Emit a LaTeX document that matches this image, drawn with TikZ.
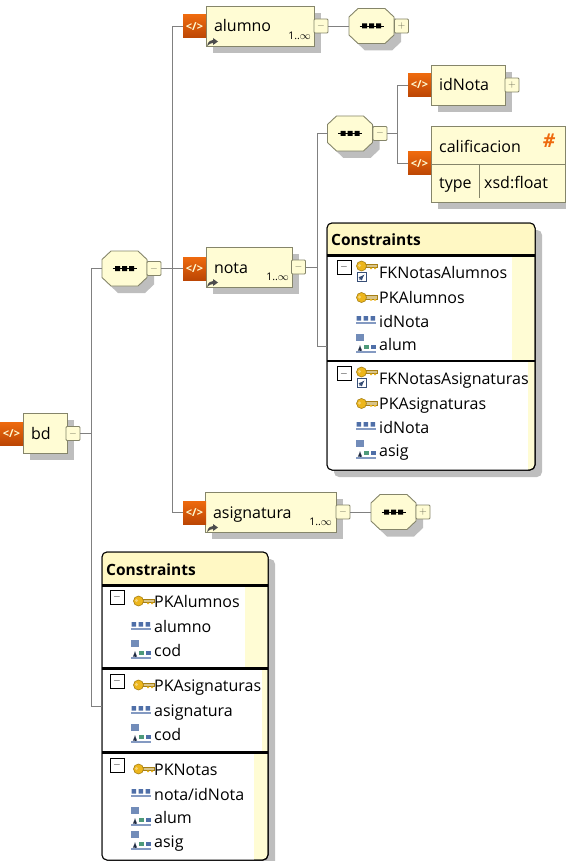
\documentclass[tikz,border=0pt]{standalone}
\usepackage{fontspec}
\setmainfont{Open Sans}
\usetikzlibrary{shadows}
\definecolor{boxfill}{HTML}{FFFCD4}
\definecolor{boxline}{HTML}{85856A}
\definecolor{titlefill}{HTML}{FFF8C4}
\definecolor{shadowgray}{HTML}{BEBEBE}
\definecolor{connline}{HTML}{808080}
\definecolor{icontop}{HTML}{EE6A0E}
\definecolor{iconbot}{HTML}{BC4604}
\definecolor{keygold}{HTML}{EDB61C}
\definecolor{keylight}{HTML}{D8C48A}
\definecolor{fieldblue}{HTML}{4F6FA8}
\definecolor{fieldgreen}{HTML}{4E9A7A}
\tikzset{
  conn/.style={draw=connline,line width=0.9pt},
  castshadow/.style={drop shadow={shadow xshift=7pt,shadow yshift=-7pt,opacity=1,fill=shadowgray}},
  elembox/.style={draw=boxline,fill=boxfill,line width=0.9pt,castshadow,anchor=west,align=left,
    text width=#1pt-16pt,inner xsep=8pt,inner ysep=0pt,minimum height=40pt,outer sep=0pt,
    text height=15pt,text depth=3pt,font=\fontsize{16}{18}\selectfont},
  elemicon/.style={top color=icontop,bottom color=iconbot,minimum width=23pt,minimum height=23pt,inner sep=0pt,
    text=boxfill,font=\fontsize{11}{11}\selectfont\bfseries},
  foldbox/.style={draw=boxline,fill=boxfill,line width=0.8pt,rounded corners=1pt,minimum width=14pt,minimum height=14pt,
    inner sep=0pt,outer sep=0pt,text=boxline!80!black},
  seqbox/.style={minimum width=45pt,minimum height=35pt,inner sep=0pt,outer sep=0pt},
  consbox/.style={draw=black,fill=boxfill,line width=1pt,rounded corners=5pt,castshadow,inner sep=0pt,outer sep=0pt},
  constitle/.style={anchor=base west,inner sep=0pt,font=\fontsize{15.5}{17}\selectfont\bfseries},
  consline/.style={draw=black,line width=#1pt},
  consfold/.style={draw=black,fill=white,line width=0.7pt,minimum width=14pt,minimum height=14pt,inner sep=0pt,outer sep=0pt},
  lbl/.style={anchor=base west,inner sep=0pt,font=\fontsize{16}{18}\selectfont},
  consname/.style={anchor=base west,inner sep=0pt,font=\fontsize{16}{18}\selectfont},
  occurs/.style={anchor=east,inner sep=0pt,font=\fontsize{10.5}{12}\selectfont},
  seqicon/.pic={
    \fill[shadowgray] (-6.5,-10.5) -- (20.5,-10.5) -- (29.5,-2) -- (29.5,16) -- (20.5,24.5) -- (-6.5,24.5) -- (-15.5,16) -- (-15.5,-2) -- cycle;
    \filldraw[fill=boxfill,draw=boxline,line width=0.9pt] (-13.5,-17.5) -- (13.5,-17.5) -- (22.5,-9) -- (22.5,9) -- (13.5,17.5) -- (-13.5,17.5) -- (-22.5,9) -- (-22.5,-9) -- cycle;
    \draw[black,line width=0.9pt] (-12,0) -- (12,0);
    \fill[black] (-9.5,-2.5) rectangle (-4.5,2.5) (-2.5,-2.5) rectangle (2.5,2.5) (4.5,-2.5) rectangle (9.5,2.5);
  },
  refarrow/.pic={
    \fill[black!70] (0,8) .. controls (1,3) and (4,2) .. (6,2) -- (6,0) -- (11,3.5) -- (6,7) -- (6,5) .. controls (4,5) and (2,6) .. (0,8) -- cycle;
  },
  keyicon/.pic={
    \fill[keylight,draw=keygold!70!black,line width=0.4pt] (-1,-2) rectangle (11,1.5);
    \fill[keygold] (4,1.5) rectangle (6,3) (8,1.5) rectangle (10,3);
    \fill[keygold,draw=keygold!70!black,line width=0.6pt] (-4.5,0) circle [radius=5];
    \fill[keygold!60!white] (-6.5,-0.5) circle [radius=1.6];
  },
  fkmark/.pic={
    \fill[white,draw=fieldblue!70!black,line width=0.8pt] (-4.5,-4.5) rectangle (4.5,4.5);
    \draw[fieldblue!70!black,line width=1.1pt,-latex] (-2.5,2.5) -- (2.5,-2.5);
  },
  fieldicon/.pic={
    \fill[fieldblue] (-9.5,-4) rectangle (-5,0.5) (-2.5,-4) rectangle (2,0.5) (4.5,-4) rectangle (9,0.5);
    \fill[fieldblue!70] (-10,2) rectangle (10,3.5);
  },
  selicon/.pic={
    \fill[fieldblue!80] (-10,-10) rectangle (-2,-3);
    \draw[fieldblue!40!black,line width=0.9pt,-latex] (-6,7) -- (-6,1);
    \fill[fieldgreen] (-2,0.5) rectangle (3,5);
    \fill[fieldblue] (5,0.5) rectangle (10,5);
    \fill[fieldblue!70] (-10,7) rectangle (10,8.5);
  },
}
\begin{document}
\begin{tikzpicture}[x=1pt,y=-1pt]
\useasboundingbox (0,0) rectangle (565,861);
% root element
\node[elembox=44] (bd) at (23,433) {bd};
\node[elemicon] (bdicon) at (11.5,433.5) {</>};
\node[foldbox] (bdfold) at (73,433.5) {$-$};
\coordinate (busbd) at (91,433.5);
% sequence under root
\pic at (124.5,268.5) {seqicon};
\node[seqbox] (seqbd) at (124.5,268.5) {};
\node[foldbox] (seqbdfold) at (154,268.5) {$-$};
\coordinate (busseq) at (172,268.5);
% alumno
\node[elembox=108] (alumno) at (206,26) {alumno};
\node[elemicon] (alumnoicon) at (194.5,26.5) {</>};
\node[foldbox] (alumnofold) at (321,26) {$-$};
\node[occurs] (alumnoocc) at (311,36) {1..$\infty$};
\pic at (207,38) {refarrow};
\pic at (371.5,26) {seqicon};
\node[seqbox] (seqalumno) at (371.5,26) {};
\node[foldbox] (seqalumnofold) at (401.5,26) {$+$};
% nota
\node[elembox=86] (nota) at (206,267) {nota};
\node[elemicon] (notaicon) at (194.5,268.5) {</>};
\node[foldbox] (notafold) at (298.5,267) {$-$};
\node[occurs] (notaocc) at (289,277) {1..$\infty$};
\pic at (207,279) {refarrow};
\coordinate (busnota) at (317,267);
\pic at (350,133.5) {seqicon};
\node[seqbox] (seqnota) at (350,133.5) {};
\node[foldbox] (seqnotafold) at (380,133.5) {$-$};
\coordinate (busitems) at (397,133.5);
% idNota
\node[elembox=74] (idnota) at (431,85) {idNota};
\node[elemicon] (idnotaicon) at (419.5,85) {</>};
\node[foldbox] (idnotafold) at (512,85) {$+$};
% calificacion
\node[elembox=134,minimum height=76pt] (calif) at (431,164) {};
\node[elemicon] (calificon) at (419.5,163.5) {</>};
\node[lbl] (califname) at (439,153) {calificacion};
\node[anchor=center,inner sep=0pt,text=icontop,font=\fontsize{19}{19}\selectfont\bfseries\itshape] (califhash) at (549,141) {\#};
\node[lbl] (califtype) at (439,188) {type};
\node[lbl] (califval) at (484,188) {xsd:float};
\draw[draw=boxline,line width=0.9pt] (calif.west) -- (calif.east);
\draw[draw=boxline,line width=0.7pt] (479,164) -- (479,198);
% asignatura
\node[elembox=131] (asig) at (205,512) {asignatura};
\node[elemicon] (asigicon) at (194.5,512.5) {</>};
\node[foldbox] (asigfold) at (343,512) {$-$};
\node[occurs] (asigocc) at (332,522) {1..$\infty$};
\pic at (207,524) {refarrow};
\pic at (393.5,512) {seqicon};
\node[seqbox] (seqasig) at (393.5,512) {};
\node[foldbox] (seqasigfold) at (423,512) {$+$};
% constraints of nota
\node[consbox,minimum width=208pt,minimum height=247pt] (consnota) at (431,346.5) {};
\begin{scope}
\clip[rounded corners=5pt] (327,223) rectangle (535,470);
\fill[titlefill] (327,223) rectangle (535,254);
\fill[white] (327,256) rectangle (512,360);
\fill[white] (327,362) rectangle (528,470);
\end{scope}
\draw[consline=3] (327,255) -- (535,255);
\draw[consline=2] (327,361) -- (535,361);
\draw[draw=black,line width=1pt,rounded corners=5pt] (consnota.north west) rectangle (consnota.south east);
\node[constitle] (consnotatitle) at (331,245) {Constraints};
\node[consfold] (fkafold) at (344,267) {$-$};
\pic at (366,266) {keyicon};
\pic at (362,277) {fkmark};
\node[consname] (fka) at (379,278) {FKNotasAlumnos};
\pic at (366,297.5) {keyicon};
\node[consname] (fkaref) at (379,303.5) {PKAlumnos};
\pic at (366,320) {fieldicon};
\node[consname] (fkafield) at (379,327) {idNota};
\pic at (366,344) {selicon};
\node[consname] (fkasel) at (379,350) {alum};
\node[consfold] (fkbfold) at (344,373.5) {$-$};
\pic at (366,372) {keyicon};
\pic at (362,383) {fkmark};
\node[consname] (fkb) at (379,384) {FKNotasAsignaturas};
\pic at (366,403.5) {keyicon};
\node[consname] (fkbref) at (379,409.5) {PKAsignaturas};
\pic at (366,426) {fieldicon};
\node[consname] (fkbfield) at (379,433) {idNota};
\pic at (366,450) {selicon};
\node[consname] (fkbsel) at (379,456) {asig};
% constraints of bd
\node[consbox,minimum width=166pt,minimum height=308pt] (consbd) at (185,706) {};
\begin{scope}
\clip[rounded corners=5pt] (102,552) rectangle (268,860);
\fill[titlefill] (102,552) rectangle (268,584);
\fill[white] (102,586) rectangle (245,667);
\fill[white] (102,669) rectangle (262,751);
\fill[white] (102,753) rectangle (254,860);
\end{scope}
\draw[consline=3] (102,585) -- (268,585);
\draw[consline=3] (102,668) -- (268,668);
\draw[consline=3] (102,752) -- (268,752);
\draw[draw=black,line width=1pt,rounded corners=5pt] (consbd.north west) rectangle (consbd.south east);
\node[constitle] (consbdtitle) at (106,575) {Constraints};
\node[consfold] (pkafold) at (117,597) {$-$};
\pic at (143,601) {keyicon};
\node[consname] (pka) at (154,607) {PKAlumnos};
\pic at (141,626) {fieldicon};
\node[consname] (pkafield) at (154,632.5) {alumno};
\pic at (141,650) {selicon};
\node[consname] (pkasel) at (154,656) {cod};
\node[consfold] (pkbfold) at (117,681) {$-$};
\pic at (143,685) {keyicon};
\node[consname] (pkb) at (154,691) {PKAsignaturas};
\pic at (141,710) {fieldicon};
\node[consname] (pkbfield) at (154,716.5) {asignatura};
\pic at (141,734) {selicon};
\node[consname] (pkbsel) at (154,740) {cod};
\node[consfold] (pkcfold) at (117,765) {$-$};
\pic at (143,769) {keyicon};
\node[consname] (pkc) at (154,775) {PKNotas};
\pic at (141,793) {fieldicon};
\node[consname] (pkcfield) at (154,800) {nota/idNota};
\pic at (141,817) {selicon};
\node[consname] (pkcsela) at (154,823) {alum};
\pic at (141,841) {selicon};
\node[consname] (pkcselb) at (154,847) {asig};
% connectors
\draw[conn] (bdfold.east) -- (busbd);
\draw[conn] (seqbd.west) -| (busbd);
\draw[conn] (consbd.west) -| (busbd);
\draw[conn] (seqbdfold.east) -- (busseq);
\draw[conn] (alumnoicon.west) -| (busseq);
\draw[conn] (asigicon.west) -| (busseq);
\draw[conn] (busseq) -- (notaicon.west);
\draw[conn] (alumnofold.east) -- (seqalumno.west);
\draw[conn] (asigfold.east) -- (seqasig.west);
\draw[conn] (notafold.east) -- (busnota);
\draw[conn] (seqnota.west) -| (busnota);
\draw[conn] (consnota.west) -| (busnota);
\draw[conn] (seqnotafold.east) -- (busitems);
\draw[conn] (idnotaicon.west) -| (busitems);
\draw[conn] (calificon.west) -| (busitems);
\end{tikzpicture}
\end{document}
